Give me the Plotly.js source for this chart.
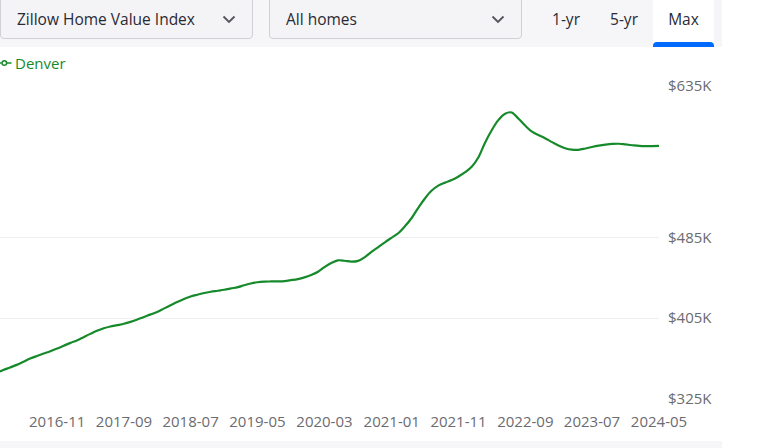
<!DOCTYPE html>
<html>
<head>
<meta charset="utf-8">
<script src="https://cdn.plot.ly/plotly-3.0.1.min.js"></script>
<style>
  html, body { margin: 0; padding: 0; background: #ffffff; }
  body { width: 784px; height: 448px; position: relative; overflow: hidden; font-family: "Open Sans", sans-serif; }
  #chart { position: absolute; left: 0; top: 0; width: 784px; height: 448px; }
  .bar { position: absolute; left: 0; top: 0; width: 722px; height: 47px; background: #f6f6f9; }
  .sel { position: absolute; top: -6px; height: 45px; box-sizing: border-box; border: 1px solid #d1d1d5; border-radius: 4px; background: #f4f4f7; color: #2a2a33; font-size: 15.5px; }
  .sel span { position: absolute; left: 16px; top: 14px; line-height: 20px; }
  .sel svg { position: absolute; top: 20px; }
  .tab { position: absolute; top: 0; height: 47px; color: #2a2a33; font-size: 15.5px; line-height: 20px; text-align: center; }
  .tab span { position: absolute; left: 0; right: 0; top: 9px; }
  .tab.active { background: #ffffff; }
  .tab.active .ul { position: absolute; left: 0; right: 0; bottom: 0; height: 5px; background: #006aff; border-radius: 4px 4px 0 0; }
  .bottom { position: absolute; left: 0; top: 441px; width: 722px; height: 7px; background: #f6f6f9; }
  .legend { position: absolute; left: 0; top: 52px; height: 22px; color: #168a2b; font-size: 15px; line-height: 22px; }
  .legend svg { position: absolute; left: 0; top: 7px; }
  .legend span { position: absolute; left: 15px; top: 0; white-space: nowrap; }
</style>
</head>
<body>
<div id="chart"></div>
<div class="bar"></div>
<div class="sel" style="left:0px;width:253px;"><span>Zillow Home Value Index</span>
  <svg width="14" height="9" style="left:221px;" viewBox="0 0 14 9"><path d="M1.5 1.5 L7 7 L12.5 1.5" fill="none" stroke="#54545a" stroke-width="1.8"/></svg></div>
<div class="sel" style="left:269px;width:253px;"><span>All homes</span>
  <svg width="14" height="9" style="left:221px;" viewBox="0 0 14 9"><path d="M1.5 1.5 L7 7 L12.5 1.5" fill="none" stroke="#54545a" stroke-width="1.8"/></svg></div>
<div class="tab" style="left:540px;width:52px;"><span>1-yr</span></div>
<div class="tab" style="left:598px;width:52px;"><span>5-yr</span></div>
<div class="tab active" style="left:653px;width:61px;"><span>Max</span><div class="ul"></div></div>
<div class="bottom"></div>
<div class="legend">
  <svg width="13" height="8" viewBox="0 0 13 8"><line x1="0" y1="4" x2="1.5" y2="4" stroke="#168a2b" stroke-width="1.5"/><circle cx="4.3" cy="4" r="2.3" fill="#ffffff" stroke="#168a2b" stroke-width="1.5"/><line x1="6.6" y1="4" x2="11.5" y2="4" stroke="#168a2b" stroke-width="1.5"/></svg>
  <span>Denver</span>
</div>
<script>
// Denver Zillow Home Value Index (all homes), thousands of dollars, monthly
const months = [
  "2016-02-01","2016-03-01","2016-04-01","2016-05-01","2016-06-01","2016-07-01","2016-08-01","2016-09-01","2016-10-01","2016-11-01","2016-12-01",
  "2017-01-01","2017-02-01","2017-03-01","2017-04-01","2017-05-01","2017-06-01","2017-07-01","2017-08-01","2017-09-01","2017-10-01","2017-11-01","2017-12-01",
  "2018-01-01","2018-02-01","2018-03-01","2018-04-01","2018-05-01","2018-06-01","2018-07-01","2018-08-01","2018-09-01","2018-10-01","2018-11-01","2018-12-01",
  "2019-01-01","2019-02-01","2019-03-01","2019-04-01","2019-05-01","2019-06-01","2019-07-01","2019-08-01","2019-09-01","2019-10-01","2019-11-01","2019-12-01",
  "2020-01-01","2020-02-01","2020-03-01","2020-04-01","2020-05-01","2020-06-01","2020-07-01","2020-08-01","2020-09-01","2020-10-01","2020-11-01","2020-12-01",
  "2021-01-01","2021-02-01","2021-03-01","2021-04-01","2021-05-01","2021-06-01","2021-07-01","2021-08-01","2021-09-01","2021-10-01","2021-11-01","2021-12-01",
  "2022-01-01","2022-02-01","2022-03-01","2022-04-01","2022-05-01","2022-06-01","2022-07-01","2022-08-01","2022-09-01","2022-10-01","2022-11-01","2022-12-01",
  "2023-01-01","2023-02-01","2023-03-01","2023-04-01","2023-05-01","2023-06-01","2023-07-01","2023-08-01","2023-09-01","2023-10-01","2023-11-01","2023-12-01",
  "2024-01-01","2024-02-01","2024-03-01","2024-04-01","2024-05-01"
];
const denverValues = [
  351.1,353.7,356.2,358.8,361.9,365.0,367.6,370.0,372.3,375.0,377.8,
  380.6,383.2,386.2,389.5,392.5,395.0,396.8,398.1,399.5,401.4,403.8,406.3,
  408.8,411.5,414.5,417.8,421.0,424.0,426.5,428.3,430.0,431.2,432.2,433.2,
  434.5,435.8,437.6,439.4,440.6,441.2,441.4,441.5,441.8,442.7,443.8,445.5,
  447.9,451.0,455.6,459.6,462.3,461.9,461.0,461.8,465.5,470.8,475.5,480.2,
  484.8,489.4,495.8,504.0,514.0,523.6,531.2,536.3,539.3,541.8,545.3,549.6,
  555.3,565.0,578.6,591.2,601.2,607.6,608.8,602.5,595.6,589.8,586.3,583.0,
  579.4,575.9,573.4,571.9,571.8,573.1,574.6,575.9,576.9,577.6,577.8,577.1,
  576.3,575.6,575.4,575.5,575.6
];
const xTickVals = ["2016-11-01","2017-09-01","2018-07-01","2019-05-01","2020-03-01","2021-01-01","2021-11-01","2022-09-01","2023-07-01","2024-05-01"];
const xTickText = ["2016-11","2017-09","2018-07","2019-05","2020-03","2021-01","2021-11","2022-09","2023-07","2024-05"];
const yTickVals = [325, 405, 485, 635];
const yTickText = ["$325K", "$405K", "$485K", "$635K"];

const trace = {
  x: months, y: denverValues, type: "scatter", mode: "lines", name: "Denver",
  line: { color: "#168a2b", width: 2.2, shape: "spline", smoothing: 1 },
  hoverinfo: "skip"
};
const layout = {
  width: 784, height: 448,
  margin: { l: 0, r: 125, t: 86, b: 49, pad: 0 },
  paper_bgcolor: "rgba(0,0,0,0)", plot_bgcolor: "rgba(0,0,0,0)",
  showlegend: false,
  font: { family: "Open Sans, sans-serif", size: 15, color: "#6b6b70" },
  xaxis: {
    type: "date", range: ["2016-02-15", "2024-05-01"],
    tickvals: xTickVals, ticktext: xTickText,
    showgrid: false, zeroline: false, showline: false,
    ticks: "outside", ticklen: 9, tickcolor: "rgba(0,0,0,0)",
    tickfont: { size: 15, color: "#6b6b70" }
  },
  yaxis: {
    range: [325, 635], side: "right",
    tickvals: yTickVals, ticktext: yTickText,
    showgrid: true, gridcolor: "#efeff1", gridwidth: 1,
    zeroline: false, showline: false,
    ticks: "outside", ticklen: 5, tickcolor: "rgba(0,0,0,0)",
    tickfont: { size: 15, color: "#6b6b70" }
  }
};
Plotly.newPlot("chart", [trace], layout, { displayModeBar: false, staticPlot: true });
</script>
</body>
</html>
